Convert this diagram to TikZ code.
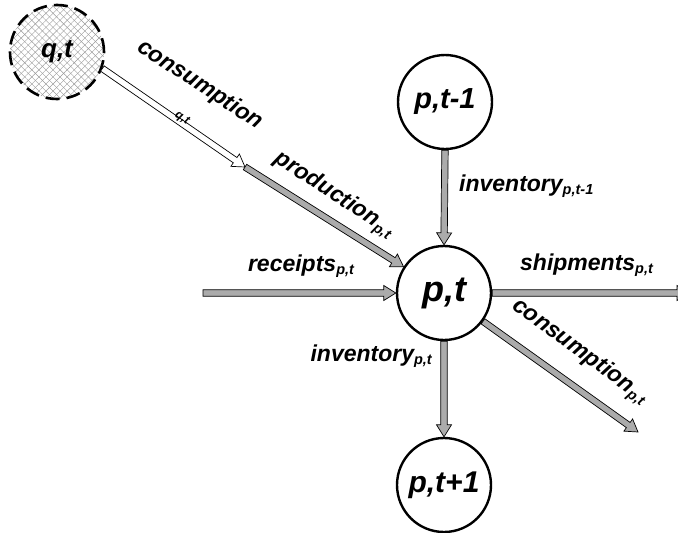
\documentclass[tikz,border=0pt]{standalone}
\usepackage{fontspec}
\setmainfont{Liberation Sans}
\usetikzlibrary{calc,patterns.meta}
\newcommand\sbs[1]{\raisebox{-0.3ex}{\fontsize{14.5}{14.5}\selectfont #1}}
\newcommand\fatarrow[3][black!33]{%
  \coordinate (fah) at ($(#3)!12pt!(#2)$);
  \filldraw[fill=#1, draw=black, line width=0.7pt, line join=miter]
    ($(#2)!3.2pt!90:(#3)$) -- ($(fah)!3.2pt!90:(#3)$) -- ($(fah)!7.5pt!90:(#3)$) -- (#3)
    -- ($(fah)!7.5pt!-90:(#3)$) -- ($(fah)!3.2pt!-90:(#3)$) -- ($(#2)!3.2pt!-90:(#3)$) -- cycle;}
\tikzset{
  state/.style={circle, draw=black, line width=2.4pt, fill=white, minimum size=94pt, inner sep=0pt, font=\bfseries\itshape},
  lbl/.style={font=\fontsize{23}{23}\selectfont\bfseries\itshape, inner sep=0pt},
}
\begin{document}
\begin{tikzpicture}[x=1pt,y=-1pt]
\useasboundingbox (0,0) rectangle (678,533);
% nodes
\node[state, draw=none, fill=white, pattern={Lines[angle=45,distance=5pt,line width=0.4pt]}, pattern color=black!40] (qbg) at (57,52) {};
\node[state, draw=none, fill=none, pattern={Lines[angle=-45,distance=5pt,line width=0.4pt]}, pattern color=black!40] (qbg2) at (57,52) {};
\node[state, fill=none, dash pattern=on 14pt off 7pt, line width=2.6pt] (q) at (57,52) {\fontsize{26}{26}\selectfont q,t};
\node[state] (ptm) at (445,102) {\fontsize{29}{29}\selectfont p,t-1};
\node[state] (pt) at (444,293) {\fontsize{36}{36}\selectfont p,t};
\node[state] (ptp) at (444,485) {\fontsize{30}{30}\selectfont p,t+1};
\coordinate (mid) at (245,167);
\coordinate (rin) at (203,293);
\coordinate (sout) at (689,293);
\coordinate (cout) at (638,432);
% arrows
\fatarrow[white]{q.-20}{mid}
\fatarrow{mid}{pt.147}
\fatarrow{rin}{pt.west}
\fatarrow{pt.east}{sout}
\fatarrow{pt.-36}{cout}
\fatarrow{ptm.south}{pt.north}
\fatarrow{pt.south}{ptp.north}
% labels
\node[lbl, rotate=-33] (lc1) at (200,85) {consumption};
\node[lbl, rotate=-33, font=\fontsize{12}{12}\selectfont\bfseries\itshape] (lc1s) at (182,118) {q,t};
\node[lbl, rotate=-33] (lpr) at (334,195) {production\sbs{p,t}};
\node[lbl] (lre) at (301,266) {receipts\sbs{p,t}};
\node[lbl, anchor=west] (lim) at (459,186) {inventory\sbs{p,t-1}};
\node[lbl, anchor=west] (lsh) at (520,265) {shipments\sbs{p,t}};
\node[lbl, rotate=-36] (lco) at (580,352) {consumption\sbs{p,t}};
\node[lbl, anchor=east] (lip) at (432,356) {inventory\sbs{p,t}};
\end{tikzpicture}
\end{document}
